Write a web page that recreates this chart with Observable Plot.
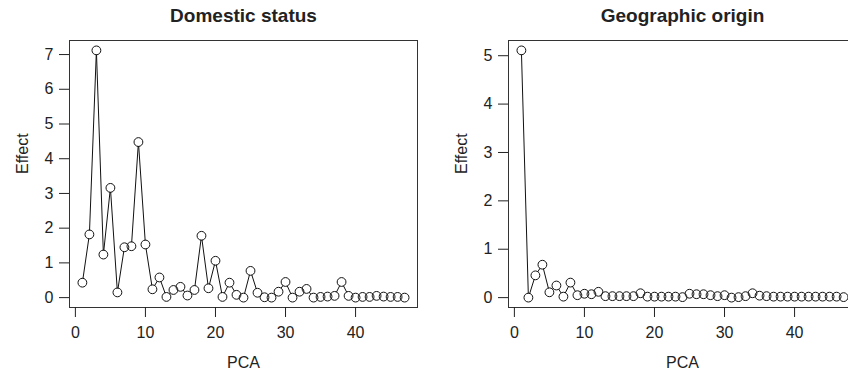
<!DOCTYPE html>
<html>
<head>
<meta charset="utf-8">
<script src="https://cdn.jsdelivr.net/npm/d3@7"></script>
<script src="https://cdn.jsdelivr.net/npm/@observablehq/plot@0.6"></script>
<style>
  html, body { margin: 0; padding: 0; background: #fff; }
  #wrap { width: 848px; height: 375px; overflow: hidden; display: flex; flex-direction: row; }
  #wrap svg { flex: none; }
</style>
</head>
<body>
<div id="wrap"></div>
<script>
// PCA component index
const pca = [1,2,3,4,5,6,7,8,9,10,11,12,13,14,15,16,17,18,19,20,21,22,23,24,25,26,27,28,29,30,31,32,33,34,35,36,37,38,39,40,41,42,43,44,45,46,47];

// Effect of each PCA on domestic status
const domestic = [0.43, 1.82, 7.12, 1.24, 3.16, 0.15, 1.45, 1.48, 4.48, 1.53,
                  0.24, 0.58, 0.02, 0.22, 0.31, 0.06, 0.22, 1.78, 0.27, 1.06,
                  0.02, 0.43, 0.08, 0.00, 0.77, 0.14, 0.01, 0.00, 0.17, 0.45,
                  0.00, 0.17, 0.25, 0.00, 0.02, 0.03, 0.05, 0.45, 0.05, 0.00,
                  0.02, 0.02, 0.05, 0.03, 0.02, 0.02, 0.00];

// Effect of each PCA on geographic origin
const geographic = [5.11, 0.00, 0.46, 0.68, 0.11, 0.25, 0.02, 0.31, 0.05, 0.08,
                    0.07, 0.12, 0.03, 0.03, 0.03, 0.03, 0.03, 0.09, 0.02, 0.02,
                    0.02, 0.02, 0.02, 0.01, 0.08, 0.07, 0.07, 0.05, 0.03, 0.05,
                    0.00, 0.01, 0.03, 0.09, 0.04, 0.03, 0.02, 0.02, 0.02, 0.02,
                    0.02, 0.02, 0.02, 0.02, 0.02, 0.02, 0.01];

const xTicks = [0, 10, 20, 30, 40];
const yTicksDomestic = [0, 1, 2, 3, 4, 5, 6, 7];
const yTicksGeographic = [0, 1, 2, 3, 4, 5];

const titles = ["Domestic status", "Geographic origin"];
const xLabel = "PCA";
const yLabel = "Effect";

function pad(lo, hi) { const d = (hi - lo) * 0.04; return [lo - d, hi + d]; }

function panel(values, yTicks, title, opts) {
  const data = pca.map((p, i) => ({pca: p, effect: values[i]}));
  const ink = "#222";
  return Plot.plot({
    width: opts.width,
    height: 375,
    marginLeft: opts.marginLeft,
    marginRight: 7,
    marginTop: 40,
    marginBottom: 68,
    style: {fontFamily: "'Liberation Sans', Arial, sans-serif", fontSize: "16px", color: ink, background: "#fff"},
    x: {domain: pad(d3.min(pca), d3.max(pca))},
    y: {domain: pad(d3.min(values), d3.max(values))},
    marks: [
      Plot.frame({stroke: "#333", strokeWidth: 1}),
      Plot.axisX({ticks: xTicks, tickFormat: d3.format("d"), tickSize: 10, tickPadding: 9, label: null, stroke: ink, fontSize: 16}),
      Plot.axisY({ticks: yTicks, tickFormat: d3.format("d"), tickSize: 10, tickPadding: 6, label: null, stroke: ink, fontSize: 16}),
      Plot.line(data, {x: "pca", y: "effect", stroke: "#111", strokeWidth: 1}),
      Plot.dot(data, {x: "pca", y: "effect", r: 4, fill: "#fff", stroke: "none"}),
      Plot.dot(data, {x: "pca", y: "effect", r: 4.4, fill: "none", stroke: "#111", strokeWidth: 1}),
      Plot.text([title], {frameAnchor: "top", dy: -32, fontWeight: "bold", fontSize: 19, fill: ink}),
      Plot.text([xLabel], {frameAnchor: "bottom", dy: 60, fontSize: 16, fill: ink}),
      Plot.text([yLabel], {frameAnchor: "left", dx: -47, rotate: -90, fontSize: 16, fill: ink})
    ]
  });
}

const wrap = document.getElementById("wrap");
wrap.appendChild(panel(domestic, yTicksDomestic, titles[0], {width: 424, marginLeft: 69}));
wrap.appendChild(panel(geographic, yTicksGeographic, titles[1], {width: 439, marginLeft: 84}));
</script>
</body>
</html>
